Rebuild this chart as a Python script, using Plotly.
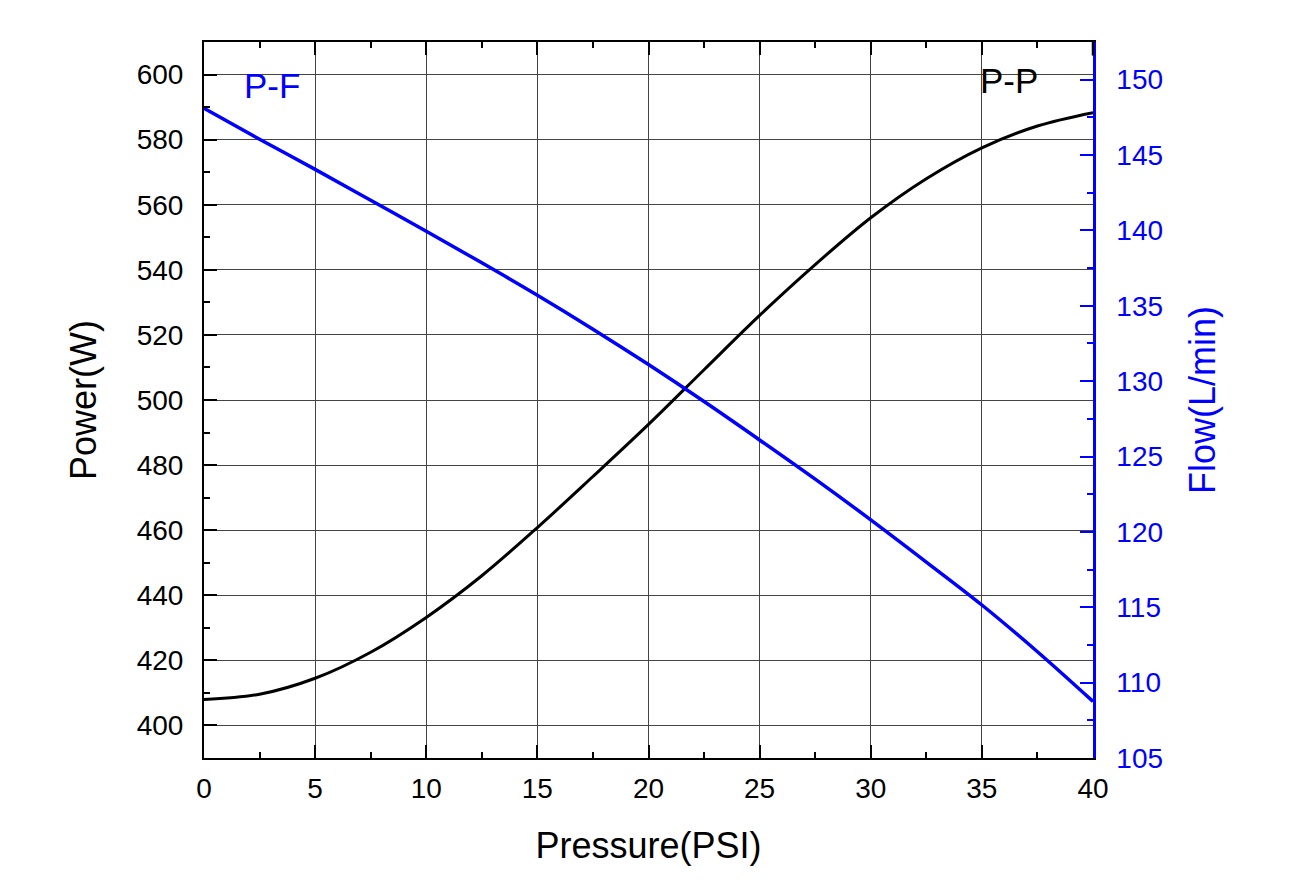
import plotly.graph_objects as go

# data
pressure = [0, 2.5, 5, 7.5, 10, 12.5, 15, 17.5, 20, 22.5, 25, 27.5, 30, 32.5, 35, 37.5, 40]
power = [408.0, 409.6, 414.5, 422.5, 433.2, 446.0, 460.8, 476.5, 492.5, 509.3,
         526.0, 541.6, 556.0, 568.0, 577.5, 584.2, 588.3]
flow = [148.1, 146.05, 144.05, 142.0, 139.95, 137.85, 135.7, 133.45, 131.1, 128.65,
        126.1, 123.5, 120.8, 118.0, 115.15, 112.05, 108.75]

BLUE = "#0000FF"
FONT = "Liberation Sans, Arial, sans-serif"

fig = go.Figure()

fig.add_trace(go.Scatter(x=pressure, y=power, mode="lines", name="P-P",
                         line=dict(color="black", width=3, shape="spline", smoothing=1)))
fig.add_trace(go.Scatter(x=pressure, y=flow, mode="lines", name="P-F", yaxis="y2",
                         line=dict(color=BLUE, width=3.5, shape="spline", smoothing=1)))

# curve labels
fig.add_annotation(x=3.05, y=596.5, text="P-F", showarrow=False,
                   font=dict(family=FONT, size=35, color=BLUE))
fig.add_annotation(x=36.2, y=598.3, text="P-P", showarrow=False,
                   font=dict(family=FONT, size=35, color="black"))

# short black piece of the right frame above the blue axis
fig.add_shape(type="line", xref="paper", x0=1, x1=1, yref="y2", y0=151.6, y1=152.5,
              line=dict(color="black", width=2.5), layer="above")

# the page body adds an 8px margin, so the figure is 16px smaller than the window
fig.update_layout(
    width=1289, height=875,
    margin=dict(l=196, r=204, t=34, b=125),
    paper_bgcolor="white", plot_bgcolor="white",
    showlegend=False,
    font=dict(family=FONT, color="black"),
    xaxis=dict(
        range=[0, 40], dtick=5, tick0=0,
        ticks="inside", ticklen=13, tickwidth=2, tickcolor="black",
        showline=True, linecolor="black", linewidth=2, mirror="ticks",
        showgrid=True, gridcolor="#444444", gridwidth=1,
        zeroline=False,
        minor=dict(dtick=2.5, ticks="inside", ticklen=6, tickwidth=2, tickcolor="black", showgrid=False),
        tickfont=dict(size=28, color="black"), ticklabelstandoff=4,
        title=dict(text="Pressure(PSI)", font=dict(size=36, color="black"), standoff=30),
    ),
    yaxis=dict(
        range=[390, 610], dtick=20, tick0=0,
        ticks="inside", ticklen=13, tickwidth=2, tickcolor="black",
        showline=True, linecolor="black", linewidth=2, mirror=False,
        showgrid=True, gridcolor="#444444", gridwidth=1,
        zeroline=False,
        minor=dict(dtick=10, ticks="inside", ticklen=6, tickwidth=2, tickcolor="black", showgrid=False),
        tickfont=dict(size=28, color="black"), ticklabelstandoff=13,
        title=dict(text="Power(W)", font=dict(size=36, color="black"), standoff=29),
    ),
    yaxis2=dict(
        overlaying="y", side="right",
        range=[105, 152.5], dtick=5, tick0=0,
        ticks="inside", ticklen=13, tickwidth=2, tickcolor=BLUE,
        showline=True, linecolor=BLUE, linewidth=2.5,
        showgrid=False, zeroline=False,
        minor=dict(dtick=2.5, ticks="inside", ticklen=6, tickwidth=2, tickcolor=BLUE, showgrid=False),
        tickfont=dict(size=28, color=BLUE), ticklabelstandoff=15,
        title=dict(text="Flow(L/min)", font=dict(size=36, color=BLUE), standoff=28),
    ),
)

fig.write_html("out.html")
